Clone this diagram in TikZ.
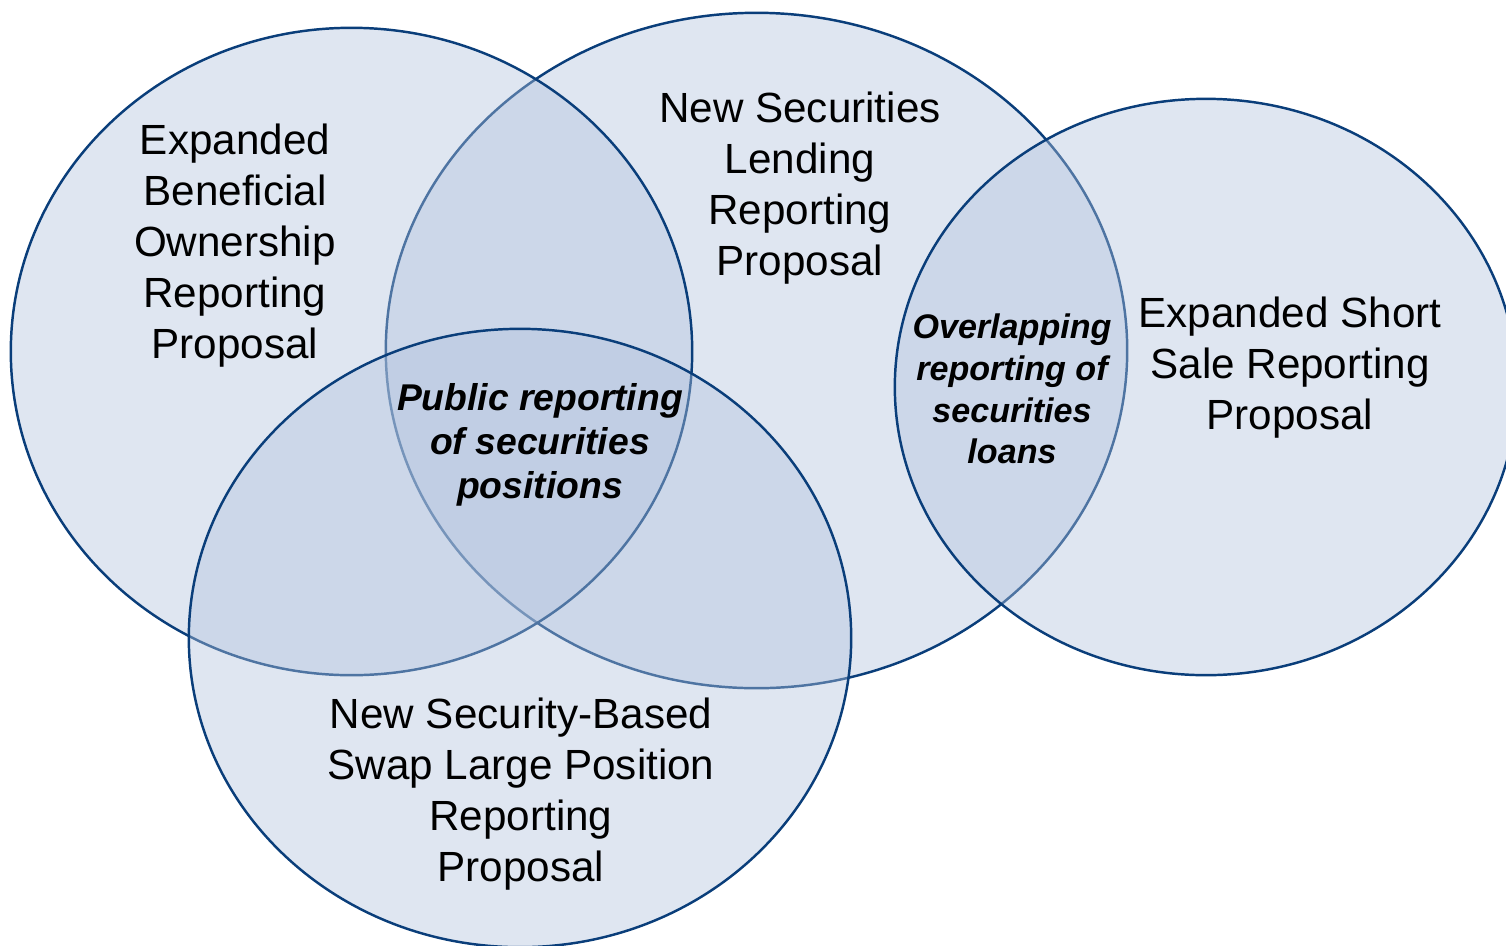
\documentclass[tikz,border=0pt]{standalone}
\usepackage{fontspec}
\setmainfont{Liberation Sans}
\usetikzlibrary{shapes.geometric}
\definecolor{vennfill}{RGB}{177,194,221}
\definecolor{vennline}{RGB}{10,62,122}
\begin{document}
\begin{tikzpicture}[x=0.01cm,y=-0.01cm,
  venn/.style={ellipse, draw=vennline, line width=0.7pt, fill=vennfill,
    fill opacity=0.41, inner sep=0pt, outer sep=0pt},
  label/.style={align=center, text=black, inner sep=0pt,
    font=\fontsize{12}{14.5}\selectfont},
  overlap/.style={align=center, text=black, inner sep=0pt,
    font=\fontsize{10.6}{12.6}\selectfont\bfseries\itshape},
  overlapsmall/.style={align=center, text=black, inner sep=0pt,
    font=\fontsize{9.7}{11.9}\selectfont\bfseries\itshape}]
\useasboundingbox (0,0) rectangle (1506,945);
\clip (0,0) rectangle (1506,945);
% circles, back to front
\node[venn, minimum width=7.41cm, minimum height=6.75cm] (lending) at (756.5,350.5) {};
\node[venn, minimum width=6.81cm, minimum height=6.47cm] (beneficial) at (351.5,351.5) {};
\node[venn, minimum width=6.22cm, minimum height=5.76cm] (shortsale) at (1206,387) {};
\node[venn, minimum width=6.62cm, minimum height=6.18cm] (swap) at (520,638) {};
% labels
\node[label] (tbeneficial) at (235,246) {Expanded\\Beneficial\\Ownership\\Reporting\\Proposal};
\node[label] (tlending) at (800,188) {New Securities\\Lending\\Reporting\\Proposal};
\node[label] (tshortsale) at (1290,368) {Expanded Short\\Sale Reporting\\Proposal};
\node[label] (tswap) at (521,794) {New Security-Based\\Swap Large Position\\Reporting\\Proposal};
\node[overlap] (tpublic) at (540,445) {Public reporting\\of securities\\positions};
\node[overlapsmall] (tloans) at (1012,389) {Overlapping\\reporting of\\securities\\loans};
\end{tikzpicture}
\end{document}
